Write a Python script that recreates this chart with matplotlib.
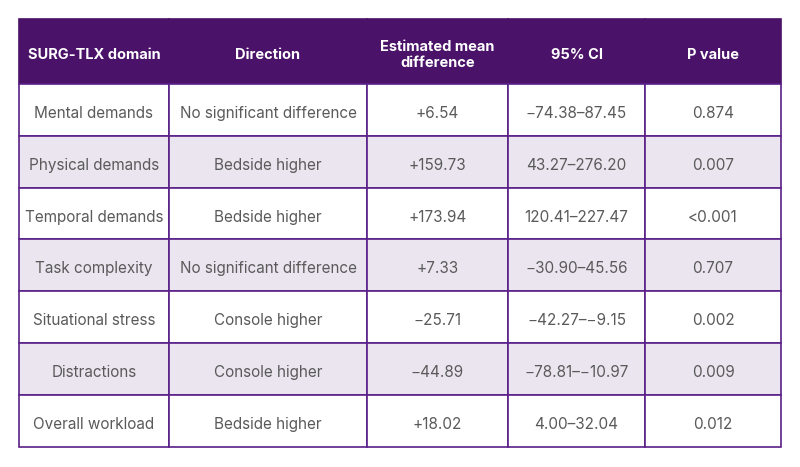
import matplotlib
matplotlib.use('agg')
import matplotlib.pyplot as plt
from matplotlib.transforms import IdentityTransform, ScaledTranslation

# table contents
headers = ["SURG-TLX domain", "Direction", "Estimated mean\ndifference", "95% CI", "P value"]
domains = ["Mental demands", "Physical demands", "Temporal demands", "Task complexity",
           "Situational stress", "Distractions", "Overall workload"]
directions = ["No significant difference", "Bedside higher", "Bedside higher",
              "No significant difference", "Console higher", "Console higher", "Bedside higher"]
mean_diff = ["+6.54", "+159.73", "+173.94", "+7.33", "\u221225.71", "\u221244.89", "+18.02"]
ci_95 = ["\u221274.38\u201387.45", "43.27\u2013276.20", "120.41\u2013227.47", "\u221230.90\u201345.56",
         "\u221242.27\u2013\u22129.15", "\u221278.81\u2013\u221210.97", "4.00\u201332.04"]
p_values = ["0.874", "0.007", "<0.001", "0.707", "0.002", "0.009", "0.012"]

purple = '#4a1268'
line_col = '#5a2088'
stripe = '#ebe5f0'
text_col = '#5a5a5a'

plt.rcParams['font.family'] = ['Inter', 'DejaVu Sans']

fig = plt.figure(figsize=(8, 4.67), dpi=100)
ax = fig.add_axes([0, 0, 1, 1])
ax.axis('off')

rows = [list(r) for r in zip(domains, directions, mean_diff, ci_95, p_values)]
col_w = [150, 198, 141, 137, 136]
W, H = 800, 467
x0, x1 = 19, 781
y_top, y_bot = 19, 447

tbl = ax.table(cellText=rows, colLabels=headers, cellLoc='center',
               colWidths=[c / sum(col_w) for c in col_w],
               bbox=[x0 / W, 1 - y_bot / H, (x1 - x0) / W, (y_bot - y_top) / H])
tbl.auto_set_font_size(False)

# nudge cell text down a little so it sits optically centred
shift = IdentityTransform() + ScaledTranslation(0, -2.5 / 72, fig.dpi_scale_trans)

for (r, c), cell in tbl.get_celld().items():
    cell.set_linewidth(1.2)
    cell.set_edgecolor(line_col)
    txt = cell.get_text()
    txt.set_transform(shift)
    if r == 0:
        cell.set_height(65)
        cell.set_facecolor(purple)
        cell.set_edgecolor(purple)
        txt.set_color('white')
        txt.set_fontweight('bold')
        txt.set_fontsize(10.5)
    else:
        cell.set_height(52)
        cell.set_facecolor(stripe if r % 2 == 0 else 'white')
        txt.set_color(text_col)
        txt.set_fontsize(11)

plt.savefig('out.png', dpi=100)
